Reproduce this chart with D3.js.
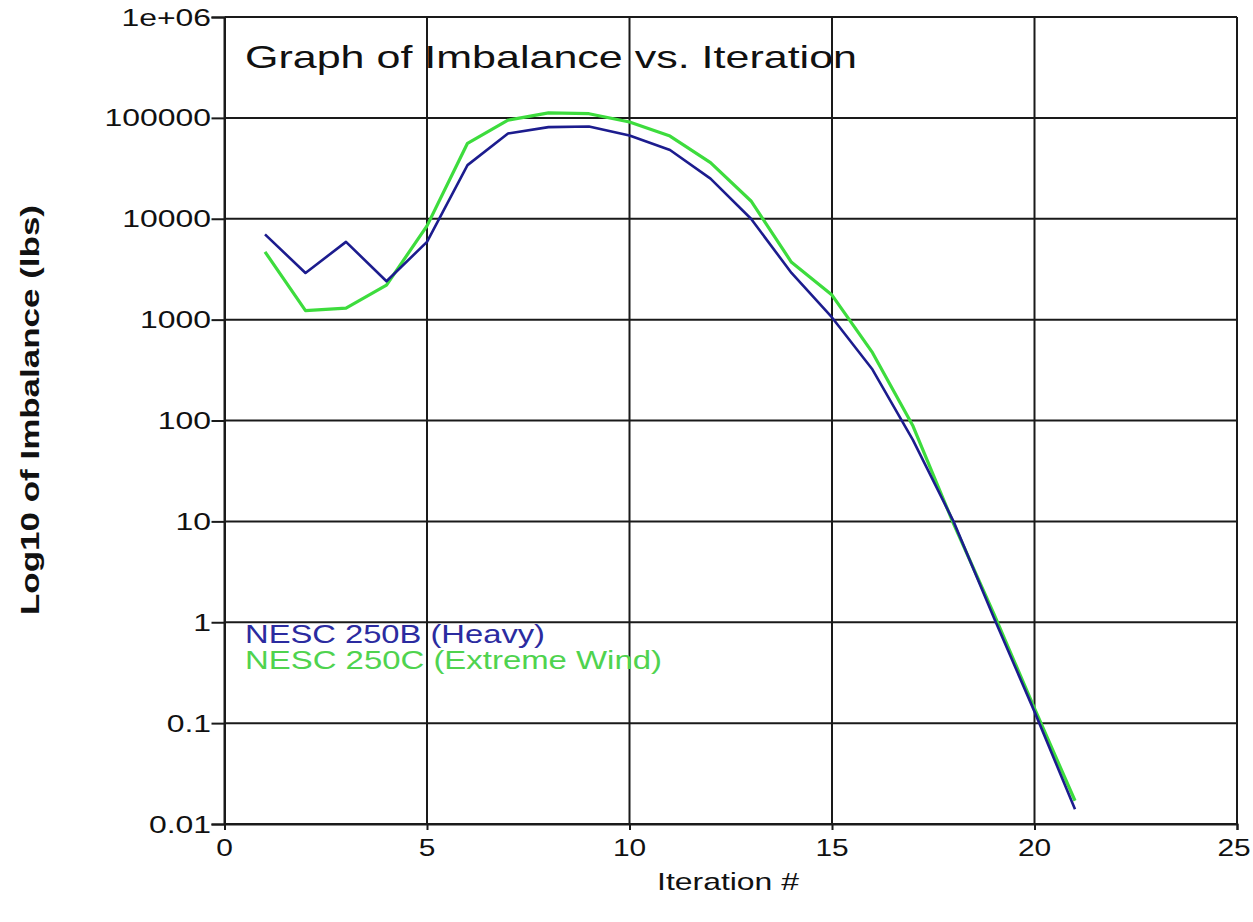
<!DOCTYPE html>
<html>
<head>
<meta charset="utf-8">
<script src="https://cdn.jsdelivr.net/npm/d3@7"></script>
<style>
  body { margin: 0; background: #fff; }
  svg { display: block; }
</style>
</head>
<body>
<svg id="chart" width="1253" height="922"></svg>
<script>
// ---- data ----
const iterations = [1,2,3,4,5,6,7,8,9,10,11,12,13,14,15,16,17,18,19,20,21];
const heavy = [7000, 2900, 5900, 2400, 5900, 34000, 70000, 81000, 82000, 67000, 48000, 25000, 10000, 2900, 1050, 320, 64, 10, 1.1, 0.13, 0.014];
const wind  = [4700, 1230, 1300, 2200, 8500, 56000, 95000, 112000, 110000, 91000, 66000, 36000, 15000, 3700, 1750, 470, 88, 9.5, 1.2, 0.14, 0.017];
const xTicks = [0, 5, 10, 15, 20, 25];
const yTicks = [0.01, 0.1, 1, 10, 100, 1000, 10000, 100000, 1000000];
const yTickLabels = ["0.01", "0.1", "1", "10", "100", "1000", "10000", "100000", "1e+06"];
const seriesNames = ["NESC 250B (Heavy)", "NESC 250C (Extreme Wind)"];
const titleText = "Graph of Imbalance vs. Iteration";
const xLabel = "Iteration #";
const yLabel = "Log10 of Imbalance (lbs)";

// ---- layout ----
const L = 224.5, R = 1237, T = 17, B = 824;
const SX = 1.33; // horizontal stretch of the original picture
const svg = d3.select("#chart");
const x = d3.scaleLinear().domain([0, 25]).range([L, R]);
const y = d3.scaleLog().domain([0.01, 1e6]).range([B, T]);
const font = "Arial, 'Liberation Sans', sans-serif";

// gridlines
const grid = svg.append("g");
grid.selectAll("line.v").data(xTicks).join("line")
  .attr("x1", d => x(d)).attr("x2", d => x(d))
  .attr("y1", T).attr("y2", B)
  .attr("stroke", "#1a1a1a").attr("stroke-width", 2);
grid.selectAll("line.h").data(yTicks).join("line")
  .attr("x1", L).attr("x2", R)
  .attr("y1", d => y(d)).attr("y2", d => y(d))
  .attr("stroke", "#1a1a1a").attr("stroke-width", 2);

// axes (ticks only, labels drawn separately for stretch)
const yAxis = svg.append("g").attr("transform", `translate(${L},0)`)
  .call(d3.axisLeft(y).tickValues(yTicks).tickSize(13).tickFormat(""));
yAxis.select(".domain").attr("stroke", "#1a1a1a").attr("stroke-width", 2);
yAxis.selectAll(".tick line").attr("stroke", "#1a1a1a").attr("stroke-width", 2);

const xAxis = svg.append("g").attr("transform", `translate(0,${B})`)
  .call(d3.axisBottom(x).tickValues(xTicks).tickSize(6).tickFormat(""));
xAxis.select(".domain").attr("stroke", "#1a1a1a").attr("stroke-width", 2);
xAxis.selectAll(".tick line").attr("stroke", "#1a1a1a").attr("stroke-width", 2);

function sText(px, py, str, anchor, size, sx, fill) {
  svg.append("text")
    .attr("transform", `translate(${px},${py}) scale(${sx},1)`)
    .attr("text-anchor", anchor)
    .attr("font-family", font)
    .attr("font-size", size)
    .attr("fill", fill || "#111")
    .text(str);
}

// tick labels
yTicks.forEach((v, i) => sText(211, y(v) + 8.5, yTickLabels[i], "end", 24, SX));
xTicks.forEach(v => sText(Math.min(x(v), 1234), 856, String(v), "middle", 23, 1.3));

// axis titles
sText(728, 890, xLabel, "middle", 24, SX);
svg.append("text")
  .attr("transform", "translate(39,410) rotate(-90)")
  .attr("text-anchor", "middle")
  .attr("font-family", font).attr("font-size", 26).attr("font-weight", "bold")
  .attr("fill", "#111")
  .attr("textLength", 410).attr("lengthAdjust", "spacingAndGlyphs")
  .text(yLabel);

// title
svg.append("text")
  .attr("x", 245).attr("y", 68)
  .attr("font-family", font).attr("font-size", 32).attr("fill", "#111")
  .attr("textLength", 612).attr("lengthAdjust", "spacingAndGlyphs")
  .text(titleText);

// lines
const line = d3.line().x(d => x(d[0])).y(d => y(d[1]));
const green = "#3ddc3d", blue = "#1c1c8e";
svg.append("path")
  .datum(iterations.map((it, i) => [it, wind[i]]))
  .attr("d", line).attr("fill", "none")
  .attr("stroke", green).attr("stroke-width", 3.2)
  .attr("stroke-linejoin", "round");
svg.append("path")
  .datum(iterations.map((it, i) => [it, heavy[i]]))
  .attr("d", line).attr("fill", "none")
  .attr("stroke", blue).attr("stroke-width", 2.6)
  .attr("stroke-linejoin", "round");

// legend
svg.append("text")
  .attr("x", 245).attr("y", 643)
  .attr("font-family", font).attr("font-size", 25).attr("fill", "#2b2ba0")
  .attr("textLength", 300).attr("lengthAdjust", "spacingAndGlyphs")
  .text(seriesNames[0]);
svg.append("text")
  .attr("x", 245).attr("y", 669)
  .attr("font-family", font).attr("font-size", 25).attr("fill", "#4fd34f")
  .attr("textLength", 417).attr("lengthAdjust", "spacingAndGlyphs")
  .text(seriesNames[1]);
</script>
</body>
</html>
